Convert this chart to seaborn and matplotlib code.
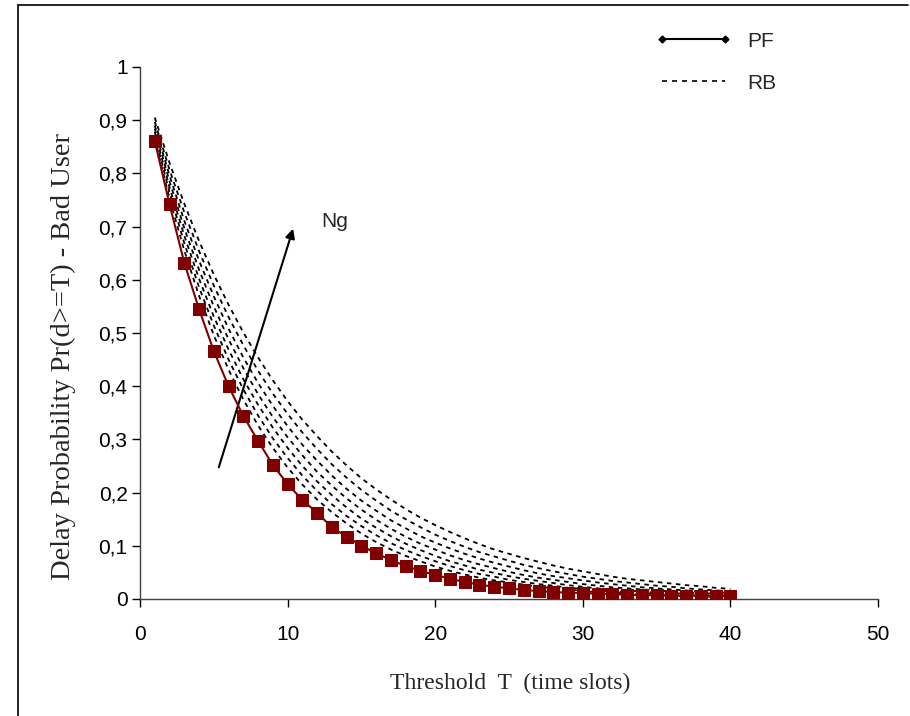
import matplotlib
matplotlib.use("Agg")
import matplotlib.pyplot as plt
import numpy as np
import pandas as pd
import seaborn as sns
from matplotlib.lines import Line2D
from matplotlib.ticker import FuncFormatter, MultipleLocator
from matplotlib.transforms import Bbox, TransformedBbox

threshold = list(range(1, 41))

pf = [0.861, 0.742, 0.632, 0.545, 0.466, 0.400, 0.344, 0.297, 0.252, 0.216,
      0.186, 0.162, 0.135, 0.117, 0.100, 0.086, 0.073, 0.062, 0.053, 0.045,
      0.038, 0.032, 0.027, 0.023, 0.020, 0.017, 0.015, 0.013, 0.012, 0.011,
      0.010, 0.009, 0.008, 0.007, 0.007, 0.006, 0.006, 0.006, 0.005, 0.005]

rb_1 = [0.865, 0.753, 0.655, 0.570, 0.496, 0.431, 0.375, 0.326, 0.284, 0.247,
        0.215, 0.187, 0.163, 0.142, 0.123, 0.107, 0.093, 0.081, 0.071, 0.061,
        0.053, 0.046, 0.040, 0.035, 0.031, 0.027, 0.023, 0.020, 0.018, 0.015,
        0.013, 0.012, 0.010, 0.009, 0.008, 0.007, 0.006, 0.005, 0.004, 0.004]
rb_2 = [0.872, 0.764, 0.669, 0.586, 0.514, 0.450, 0.394, 0.345, 0.302, 0.265,
        0.232, 0.203, 0.178, 0.156, 0.137, 0.120, 0.105, 0.092, 0.081, 0.071,
        0.062, 0.054, 0.047, 0.042, 0.036, 0.032, 0.028, 0.025, 0.021, 0.019,
        0.016, 0.014, 0.013, 0.011, 0.010, 0.009, 0.007, 0.007, 0.006, 0.005]
rb_3 = [0.878, 0.774, 0.683, 0.602, 0.531, 0.469, 0.413, 0.365, 0.322, 0.284,
        0.250, 0.221, 0.195, 0.172, 0.151, 0.134, 0.118, 0.104, 0.092, 0.081,
        0.071, 0.063, 0.055, 0.049, 0.043, 0.038, 0.034, 0.030, 0.026, 0.023,
        0.020, 0.018, 0.016, 0.014, 0.012, 0.011, 0.010, 0.008, 0.007, 0.007]
rb_4 = [0.884, 0.785, 0.697, 0.619, 0.550, 0.488, 0.434, 0.385, 0.342, 0.304,
        0.270, 0.239, 0.213, 0.189, 0.168, 0.149, 0.132, 0.117, 0.104, 0.093,
        0.082, 0.073, 0.065, 0.058, 0.051, 0.045, 0.040, 0.036, 0.032, 0.028,
        0.025, 0.022, 0.020, 0.018, 0.016, 0.014, 0.012, 0.011, 0.010, 0.009]
rb_5 = [0.890, 0.796, 0.711, 0.636, 0.569, 0.508, 0.454, 0.406, 0.363, 0.325,
        0.290, 0.260, 0.232, 0.207, 0.185, 0.166, 0.148, 0.133, 0.118, 0.106,
        0.095, 0.085, 0.076, 0.068, 0.061, 0.054, 0.048, 0.043, 0.039, 0.035,
        0.031, 0.028, 0.025, 0.022, 0.020, 0.018, 0.016, 0.014, 0.013, 0.011]
rb_6 = [0.897, 0.807, 0.727, 0.654, 0.589, 0.530, 0.477, 0.429, 0.386, 0.348,
        0.313, 0.282, 0.253, 0.228, 0.205, 0.185, 0.166, 0.150, 0.135, 0.121,
        0.109, 0.098, 0.088, 0.080, 0.072, 0.064, 0.058, 0.052, 0.047, 0.042,
        0.038, 0.034, 0.031, 0.028, 0.025, 0.023, 0.020, 0.018, 0.016, 0.015]
rb_7 = [0.905, 0.820, 0.743, 0.673, 0.610, 0.553, 0.501, 0.454, 0.411, 0.372,
        0.337, 0.306, 0.277, 0.251, 0.227, 0.206, 0.187, 0.169, 0.153, 0.139,
        0.126, 0.114, 0.103, 0.093, 0.085, 0.077, 0.070, 0.063, 0.057, 0.052,
        0.047, 0.042, 0.038, 0.035, 0.032, 0.029, 0.026, 0.024, 0.021, 0.019]
rb_curves = [rb_1, rb_2, rb_3, rb_4, rb_5, rb_6, rb_7]

x_ticks = [0, 10, 20, 30, 40, 50]
y_ticks = [0, 0.1, 0.2, 0.3, 0.4, 0.5, 0.6, 0.7, 0.8, 0.9, 1]

sns.set_theme(style="white")
plt.rcParams["font.family"] = ["Liberation Sans", "DejaVu Sans"]

fig = plt.figure(figsize=(9.1, 7.16), dpi=100)
ax = fig.add_axes([140 / 910, 1 - 599 / 716, 738 / 910, 532 / 716])

rb_frame = pd.DataFrame({
    "T": threshold * len(rb_curves),
    "prob": [v for curve in rb_curves for v in curve],
    "ng": [i for i in range(len(rb_curves)) for _ in threshold],
})
sns.lineplot(data=rb_frame, x="T", y="prob", hue="ng", units="ng", estimator=None,
             palette=["black"] * len(rb_curves), legend=False, linewidth=1.3, ax=ax)
for line in ax.get_lines():
    line.set_linestyle((0, (2.5, 2.5)))

sns.lineplot(x=threshold, y=pf, color="#800000", marker="s", markersize=9,
             markeredgecolor="#800000", linewidth=1.5, ax=ax, zorder=5)

ax.set_xlim(0, 50)
ax.set_ylim(0, 1)
ax.set_xticks(x_ticks)
ax.set_yticks(y_ticks)
ax.yaxis.set_major_formatter(FuncFormatter(
    lambda v, _: "0" if v == 0 else ("1" if v == 1 else f"{v:.1f}".replace(".", ","))))
ax.tick_params(axis="both", labelsize=15, colors="black", direction="out",
               length=6, width=1, left=True, bottom=True)
ax.tick_params(axis="x", pad=13)
ax.tick_params(axis="y", pad=3)
for side in ("top", "right"):
    ax.spines[side].set_visible(False)
for side in ("left", "bottom"):
    ax.spines[side].set_color("#404040")
    ax.spines[side].set_linewidth(1)
ax.set_xlabel("")
ax.set_ylabel("")

ax.annotate("", xy=(10.43, 0.701), xytext=(5.28, 0.2425),
            arrowprops=dict(arrowstyle="-|>", color="black", lw=1.5, mutation_scale=14))
ax.text(12.3, 0.709, "Ng", fontsize=15, va="center", ha="left")

fig.text(510 / 910, 1 - 683 / 716, "Threshold  T  (time slots)",
         family=["Liberation Serif", "DejaVu Serif"], fontsize=17, ha="center", va="center")
ylab = fig.text(63 / 910, 1 - 356 / 716, "Delay Probability Pr(d>=T) - Bad User",
                family=["Liberation Serif", "DejaVu Serif"], fontsize=20.5,
                rotation=90, ha="center", va="center")
ylab.set_clip_box(TransformedBbox(Bbox([[0, 0], [1, 1 - 131 / 716]]), fig.transFigure))
ylab.set_clip_on(True)

handles = [
    Line2D([], [], color="black", lw=1.5, marker="D", markersize=3.5),
    Line2D([], [], color="black", lw=1.2, linestyle=(0, (3, 3))),
]
fig.legend(handles, ["PF", "RB"], loc="upper left", bbox_to_anchor=(637 / 910, 1 - 13 / 716),
           frameon=False, fontsize=15, numpoints=2, handlelength=3.6,
           handletextpad=0.8, labelspacing=1.1)

fig.add_artist(Line2D([18 / 910, 18 / 910], [0, 1 - 5 / 716], color="black", lw=1.2,
                      transform=fig.transFigure))
fig.add_artist(Line2D([18 / 910, 908 / 910], [1 - 5 / 716, 1 - 5 / 716], color="black", lw=1.2,
                      transform=fig.transFigure))

fig.savefig("out.png", dpi=100)
